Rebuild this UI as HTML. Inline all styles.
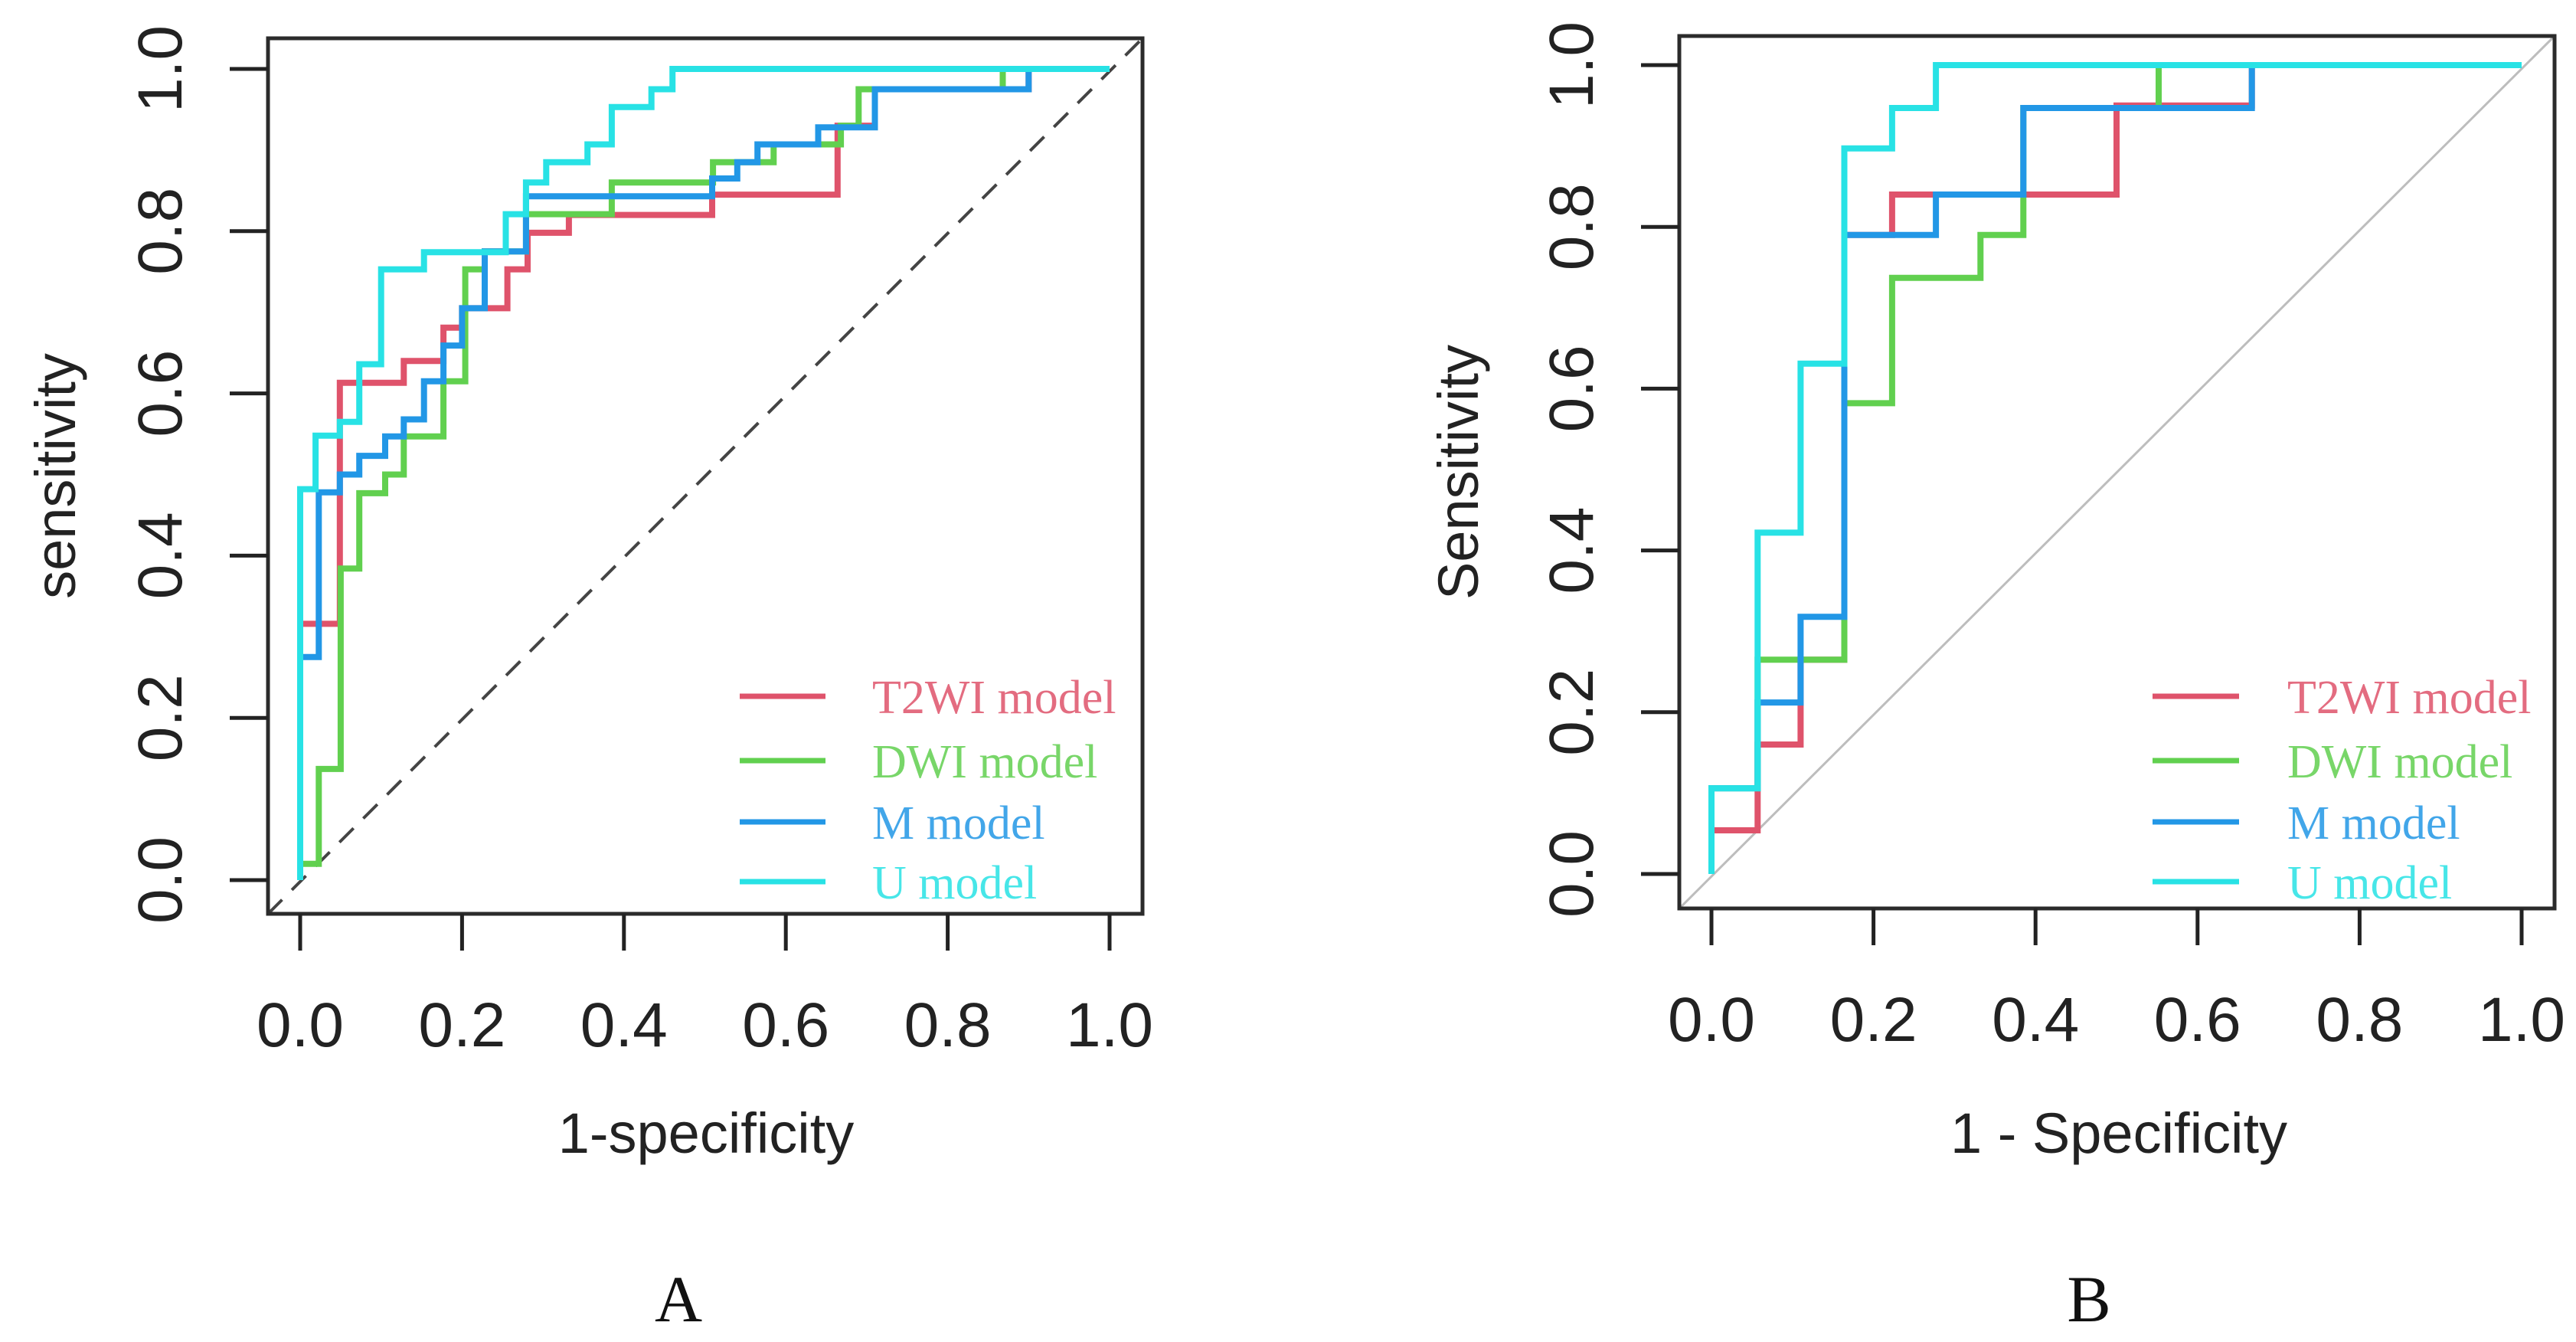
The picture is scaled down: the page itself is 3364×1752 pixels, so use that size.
<!DOCTYPE html>
<html><head><meta charset="utf-8">
<style>
html,body{margin:0;padding:0;background:#fff;}
svg{display:block;}
</style></head>
<body>
<svg id="fig" width="3364" height="1752" viewBox="0 0 3364 1752" xmlns="http://www.w3.org/2000/svg"></svg>
<script>
// ---------- Data: Panel A ----------
const tickVals = [0, 0.2, 0.4, 0.6, 0.8, 1.0];
const tickLabels = ["0.0", "0.2", "0.4", "0.6", "0.8", "1.0"];
const seriesNames = ["T2WI model", "DWI model", "M model", "U model"];
const seriesColors = ["#DF536B", "#61D04F", "#2297E6", "#28E2E5"];

const aT2Fpr = [0,0,0.049,0.049,0.128,0.128,0.177,0.177,0.2,0.2,0.256,0.256,0.281,0.281,0.332,0.332,0.509,0.509,0.664,0.664,0.71,0.71,0.9,0.9,1];
const aT2Tpr = [0,0.316,0.316,0.613,0.613,0.64,0.64,0.681,0.681,0.705,0.705,0.753,0.753,0.798,0.798,0.82,0.82,0.845,0.845,0.93,0.93,0.975,0.975,1,1];
const aDwiFpr = [0,0,0.023,0.023,0.05,0.05,0.073,0.073,0.105,0.105,0.128,0.128,0.177,0.177,0.204,0.204,0.228,0.228,0.279,0.279,0.385,0.385,0.51,0.51,0.585,0.585,0.668,0.668,0.69,0.69,0.868,0.868,1];
const aDwiTpr = [0,0.02,0.02,0.137,0.137,0.384,0.384,0.477,0.477,0.5,0.5,0.547,0.547,0.615,0.615,0.753,0.753,0.775,0.775,0.821,0.821,0.86,0.86,0.885,0.885,0.907,0.907,0.93,0.93,0.975,0.975,1,1];
const aMFpr = [0,0,0.023,0.023,0.049,0.049,0.073,0.073,0.105,0.105,0.128,0.128,0.153,0.153,0.177,0.177,0.2,0.2,0.228,0.228,0.279,0.279,0.509,0.509,0.54,0.54,0.565,0.565,0.64,0.64,0.71,0.71,0.9,0.9,1];
const aMTpr = [0,0.275,0.275,0.478,0.478,0.5,0.5,0.523,0.523,0.547,0.547,0.568,0.568,0.615,0.615,0.659,0.659,0.705,0.705,0.775,0.775,0.843,0.843,0.865,0.865,0.885,0.885,0.907,0.907,0.928,0.928,0.975,0.975,1,1];
const aUFpr = [0,0,0.019,0.019,0.049,0.049,0.073,0.073,0.1,0.1,0.153,0.153,0.254,0.254,0.279,0.279,0.304,0.304,0.355,0.355,0.385,0.385,0.434,0.434,0.46,0.46,1];
const aUTpr = [0,0.482,0.482,0.548,0.548,0.565,0.565,0.636,0.636,0.753,0.753,0.774,0.774,0.821,0.821,0.86,0.86,0.885,0.885,0.907,0.907,0.953,0.953,0.975,0.975,1,1];

// ---------- Data: Panel B ----------
const bT2Fpr = [0,0,0.057,0.057,0.11,0.11,0.164,0.164,0.223,0.223,0.5,0.5,0.667,0.667,1];
const bT2Tpr = [0,0.054,0.054,0.16,0.16,0.265,0.265,0.79,0.79,0.84,0.84,0.95,0.95,1,1];
const bDwiFpr = [0,0,0.057,0.057,0.164,0.164,0.223,0.223,0.332,0.332,0.385,0.385,0.552,0.552,1];
const bDwiTpr = [0,0.106,0.106,0.265,0.265,0.582,0.582,0.737,0.737,0.79,0.79,0.947,0.947,1,1];
const bMFpr = [0,0,0.057,0.057,0.11,0.11,0.164,0.164,0.277,0.277,0.385,0.385,0.667,0.667,1];
const bMTpr = [0,0.106,0.106,0.212,0.212,0.318,0.318,0.79,0.79,0.84,0.84,0.947,0.947,1,1];
const bUFpr = [0,0,0.057,0.057,0.11,0.11,0.164,0.164,0.223,0.223,0.277,0.277,1];
const bUTpr = [0,0.106,0.106,0.422,0.422,0.631,0.631,0.897,0.897,0.947,0.947,1,1];

const NS = "http://www.w3.org/2000/svg";
const svg = document.getElementById("fig");
function mk(tag, attrs, parent) {
  const e = document.createElementNS(NS, tag);
  for (const k in attrs) e.setAttribute(k, attrs[k]);
  (parent || svg).appendChild(e);
  return e;
}

function drawPanel(cfg) {
  const g = mk("g", {});
  
  
  const sx = v => cfg.x0 + v * (cfg.x1 - cfg.x0);
  const sy = v => cfg.y0 - v * (cfg.y0 - cfg.y1);
  const box = cfg.box;

  // diagonal reference
  const dExt = (box.r - box.l);
  const diag = mk("line", {x1: box.l, y1: box.b, x2: box.r, y2: box.t,
    stroke: cfg.diagColor, "stroke-width": cfg.diagWidth, "stroke-dasharray": cfg.diagDash}, g);
  
  

  // curves
  cfg.series.forEach((s, i) => {
    const pts = s.fpr.map((f, j) => sx(f).toFixed(1) + "," + sy(s.tpr[j]).toFixed(1)).join(" ");
    const pl = mk("polyline", {points: pts, fill: "none", stroke: seriesColors[i], "stroke-width": 8,
      "stroke-linejoin": "miter", "stroke-linecap": "butt"}, g);
    
    
  });

  // box
  const r = mk("rect", {x: box.l, y: box.t, width: box.r - box.l, height: box.b - box.t,
    fill: "none", stroke: "#2b2b2b", "stroke-width": 5}, g);
  
  

  // ticks
  tickVals.forEach((v, i) => {
    const xt = mk("line", {x1: sx(v), y1: box.b, x2: sx(v), y2: box.b + 48, stroke: "#222", "stroke-width": 5}, g);
    
    
    const xl = mk("text", {x: sx(v), y: box.b + 173, "text-anchor": "middle",
      "font-family": "Liberation Sans, sans-serif", "font-size": 82, fill: "#222"}, g);
    xl.textContent = tickLabels[i];
    
    
    const yt = mk("line", {x1: box.l, y1: sy(v), x2: box.l - 50, y2: sy(v), stroke: "#222", "stroke-width": 5}, g);
    
    
    const yl = mk("text", {x: 0, y: 0, "text-anchor": "middle",
      "font-family": "Liberation Sans, sans-serif", "font-size": 82, fill: "#222",
      transform: "translate(" + (box.l - 113) + "," + sy(v) + ") rotate(-90)"}, g);
    yl.textContent = tickLabels[i];
    
    
  });

  // axis titles
  const xtl = mk("text", {x: cfg.xTitleX, y: 1505, "text-anchor": "middle",
    "font-family": "Liberation Sans, sans-serif", "font-size": 74, fill: "#222"}, g);
  xtl.textContent = cfg.xTitle;
  
  
  const ytl = mk("text", {x: 0, y: 0, "text-anchor": "middle",
    "font-family": "Liberation Sans, sans-serif", "font-size": 74, fill: "#222",
    transform: "translate(" + cfg.yTitleX + "," + ((box.t + box.b) / 2) + ") rotate(-90)"}, g);
  ytl.textContent = cfg.yTitle;
  
  

  // legend
  const lg = mk("g", {}, g);
  
  
  const rows = [909, 993, 1073, 1151];
  seriesNames.forEach((n, i) => {
    const ln = mk("line", {x1: cfg.legL1, y1: rows[i], x2: cfg.legL2, y2: rows[i], stroke: seriesColors[i], "stroke-width": 7}, lg);
    
    
    const t = mk("text", {x: cfg.legT, y: rows[i] + 22, "font-family": "Liberation Serif, serif",
      "font-size": 62, fill: seriesColors[i], opacity: 0.85}, lg);
    t.textContent = n;
    
    
  });

  const pl = mk("text", {x: cfg.labelX, y: 1725, "text-anchor": "middle",
    "font-family": "Liberation Serif, serif", "font-size": 86, fill: "#111"}, g);
  pl.textContent = cfg.label;
  
  
}

drawPanel({
  id: "panel-a", x0: 392, x1: 1449, y0: 1149, y1: 90,
  box: {l: 350, r: 1492, t: 50, b: 1193},
  diagColor: "#444", diagWidth: 4, diagDash: "26 18",
  series: [{fpr: aT2Fpr, tpr: aT2Tpr}, {fpr: aDwiFpr, tpr: aDwiTpr}, {fpr: aMFpr, tpr: aMTpr}, {fpr: aUFpr, tpr: aUTpr}],
  xTitle: "1-specificity", xTitleX: 922, yTitle: "sensitivity", yTitleX: 98,
  legL1: 966, legL2: 1078, legT: 1139, label: "A", labelX: 886
});
drawPanel({
  id: "panel-b", x0: 2235, x1: 3293, y0: 1141, y1: 85,
  box: {l: 2193, r: 3336, t: 47, b: 1186},
  diagColor: "#bdbdbd", diagWidth: 3, diagDash: "none",
  series: [{fpr: bT2Fpr, tpr: bT2Tpr}, {fpr: bDwiFpr, tpr: bDwiTpr}, {fpr: bMFpr, tpr: bMTpr}, {fpr: bUFpr, tpr: bUTpr}],
  xTitle: "1 - Specificity", xTitleX: 2767, yTitle: "Sensitivity", yTitleX: 1930,
  legL1: 2811, legL2: 2924, legT: 2987, label: "B", labelX: 2728
});
</script>
</body></html>
